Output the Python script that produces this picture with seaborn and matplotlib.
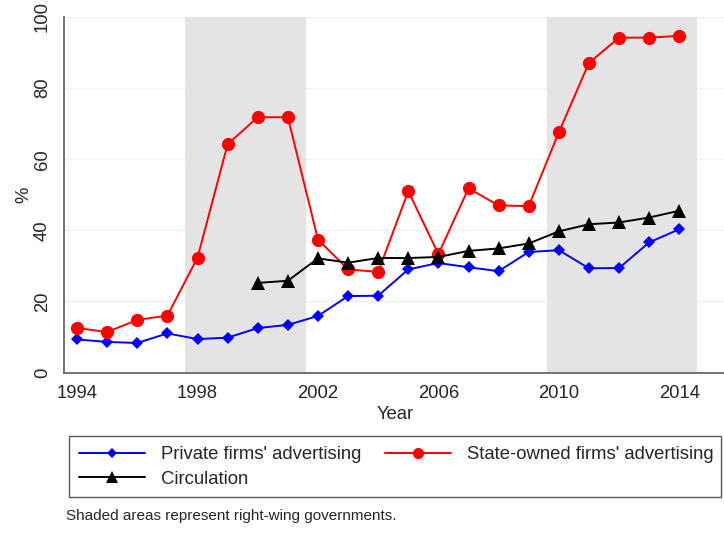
import numpy as np
import pandas as pd
import matplotlib
matplotlib.use("Agg")
import matplotlib.pyplot as plt
from matplotlib.patches import Rectangle
import seaborn as sns

years = list(range(1994, 2015))
private_adv = [9.3, 8.6, 8.3, 11.0, 9.4, 9.8, 12.5, 13.4, 15.9, 21.5, 21.6,
               29.0, 30.8, 29.6, 28.5, 33.9, 34.4, 29.3, 29.4, 36.6, 40.3]
state_adv = [12.5, 11.4, 14.8, 16.0, 32.3, 64.2, 71.8, 71.8, 37.4, 29.0, 28.3,
             51.0, 33.3, 51.8, 47.0, 46.8, 67.6, 87.1, 94.2, 94.2, 94.7]
circ_years = list(range(2000, 2015))
circulation = [25.2, 25.8, 32.1, 30.9, 32.2, 32.2, 32.5, 34.2, 34.9, 36.3,
               39.7, 41.7, 42.2, 43.6, 45.5]
# right-wing government periods (shaded)
right_wing = [(1997.6, 2001.6), (2009.6, 2014.6)]

x_ticks = [1994, 1998, 2002, 2006, 2010, 2014]
y_ticks = [0, 20, 40, 60, 80, 100]

sns.set_style("white")
plt.rcParams["font.family"] = ["Liberation Sans", "DejaVu Sans"]

W, H = 724, 546
fig = plt.figure(figsize=(W / 100, H / 100), dpi=100)
left, right, top, bottom = 63.5, 726, 17, 372.5
ax = fig.add_axes([left / W, 1 - bottom / H, (right - left) / W, (bottom - top) / H])

for y in y_ticks:
    ax.axhline(y, color="#ecf2f4", lw=1.0, zorder=0)
for a, b in right_wing:
    ax.axvspan(a, b, ymin=0, ymax=1, color="#e4e4e4", lw=0, zorder=1)

df_p = pd.DataFrame({"year": years, "val": private_adv})
df_s = pd.DataFrame({"year": years, "val": state_adv})
df_c = pd.DataFrame({"year": circ_years, "val": circulation})

sns.lineplot(data=df_p, x="year", y="val", ax=ax, color="#0000ff", marker="D",
             markersize=6.5, markeredgewidth=0, lw=1.4, zorder=3,
             label="Private firms' advertising")
sns.lineplot(data=df_s, x="year", y="val", ax=ax, color="#ff0000", marker="o",
             markersize=9.5, markeredgewidth=0, lw=1.4, zorder=3,
             label="State-owned firms' advertising")
sns.lineplot(data=df_c, x="year", y="val", ax=ax, color="black", marker="^",
             markersize=10.5, markeredgewidth=0, lw=1.4, zorder=4,
             label="Circulation")

ax.set_xlim(1993.55, 2015.55)
ax.set_ylim(0, 100)
ax.set_xticks(x_ticks)
ax.set_yticks(y_ticks)
ax.tick_params(axis="both", direction="out", length=5, width=1, color="#5a5a5a",
               labelsize=13.3, pad=4)
for lab in ax.get_yticklabels():
    lab.set_rotation(90)
    lab.set_va("center")
for side in ["top", "right"]:
    ax.spines[side].set_visible(False)
for side in ["left", "bottom"]:
    ax.spines[side].set_color("#5a5a5a")
    ax.spines[side].set_linewidth(1.2)
ax.set_xlabel("Year", fontsize=13.3, labelpad=3)
ax.set_ylabel("%", fontsize=13.3, labelpad=1.5)

handles, labels = ax.get_legend_handles_labels()
ax.get_legend().remove()
order = [0, 2, 1]
leg = fig.legend([handles[i] for i in order], [labels[i] for i in order],
                 loc="upper left", bbox_to_anchor=(69 / W, 1 - 436 / H),
                 ncol=2, fontsize=13.3, frameon=False,
                 handlelength=3.57, handletextpad=0.87,
                 columnspacing=1.25, borderpad=0.55, labelspacing=0.42,
                 borderaxespad=0)
for h in leg.legend_handles:
    h.set_markersize(h.get_markersize() * 0.85)

# legend frame
fig.patches.append(Rectangle((69 / W, 1 - 497 / H), (721 - 69) / W, (497 - 436) / H,
                             transform=fig.transFigure, fill=False,
                             edgecolor="#5a5a5a", lw=1.0))

fig.text(66 / W, 1 - 516 / H, "Shaded areas represent right-wing governments.",
         fontsize=11, va="center", ha="left")

fig.savefig("out.png", dpi=100)
